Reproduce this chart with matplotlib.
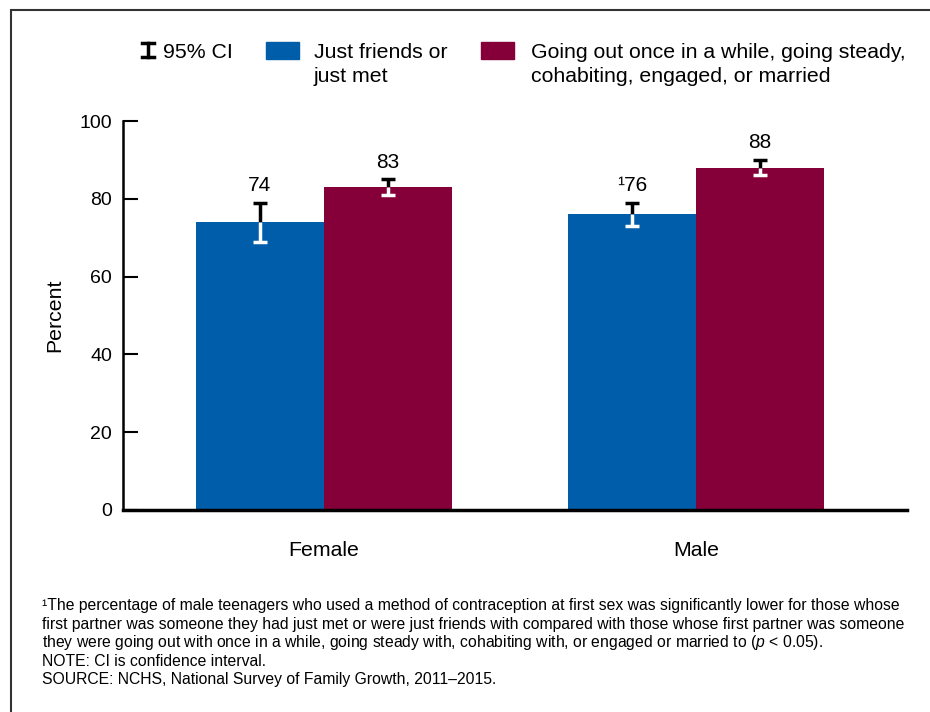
import numpy as np
import matplotlib.pyplot as plt
from matplotlib.patches import Rectangle
from matplotlib.lines import Line2D

plt.rcParams['font.family'] = ['Liberation Sans', 'DejaVu Sans']
plt.rcParams['mathtext.fontset'] = 'custom'
plt.rcParams['mathtext.rm'] = 'Liberation Sans'
plt.rcParams['mathtext.it'] = 'Liberation Sans:italic'

blue = '#005DAA'
maroon = '#850038'

sexes = ['Female', 'Male']
friends = [74, 76]
friends_lo = [69, 73]
friends_hi = [79, 79]
going_out = [83, 88]
going_lo = [81, 86]
going_hi = [85, 90]
friends_lab = ['74', '\u00b976']
going_lab = ['83', '88']
yticks = [0, 20, 40, 60, 80, 100]

fig = plt.figure(figsize=(9.3, 7.12), dpi=100)
ax = fig.add_axes([123/930, 1-510/712, 784/930, 389/712])

x = np.arange(len(sexes))
w = 0.344
ax.bar(x - w/2, friends, w, color=blue, zorder=2)
ax.bar(x + w/2, going_out, w, color=maroon, zorder=2)

def ci(xs, vals, lo, hi, labs):
    cw = 0.018
    for xi, v, l, h, t in zip(xs, vals, lo, hi, labs):
        # part above bar in black, part inside bar in white
        ax.plot([xi, xi], [v, h], color='black', lw=2.5, zorder=3, solid_capstyle='butt')
        ax.plot([xi-cw, xi+cw], [h, h], color='black', lw=2.5, zorder=3, solid_capstyle='butt')
        ax.plot([xi, xi], [l, v], color='white', lw=2.5, zorder=3, solid_capstyle='butt')
        ax.plot([xi-cw, xi+cw], [l, l], color='white', lw=2.5, zorder=3, solid_capstyle='butt')
        ax.text(xi, h + 2.0, t, ha='center', va='bottom', fontsize=15)

ci(x - w/2, friends, friends_lo, friends_hi, friends_lab)
ci(x + w/2, going_out, going_lo, going_hi, going_lab)

ax.set_xlim(-0.540, 1.567)
ax.set_ylim(0, 100)
ax.set_yticks(yticks)
ax.set_xticks(x)
ax.set_xticklabels(sexes)
ax.tick_params(axis='y', direction='in', length=11, width=1.5, labelsize=14, pad=8)
ax.tick_params(axis='x', length=0, labelsize=15.3, pad=22)
for s in ['top', 'right']:
    ax.spines[s].set_visible(False)
ax.spines['left'].set_linewidth(1.8)
ax.spines['bottom'].set_linewidth(2.5)
ax.set_ylabel('Percent', fontsize=15.3, labelpad=11)

# legend
fig.add_artist(Line2D([148/930]*2, [1-43/712, 1-57/712], color='black', lw=2.5))
fig.add_artist(Line2D([142/930, 154/930], [1-43/712]*2, color='black', lw=2.5))
fig.add_artist(Line2D([142/930, 154/930], [1-57/712]*2, color='black', lw=2.5))
fig.text(163/930, 1-52/712, '95% CI', fontsize=15.3, va='center')
fig.add_artist(Rectangle((266/930, 1-59/712), 33/930, 17/712, color=blue))
fig.text(314/930, 1-43/712, 'Just friends or\njust met', fontsize=15.3, va='top', linespacing=1.3)
fig.add_artist(Rectangle((481/930, 1-59/712), 33/930, 17/712, color=maroon))
fig.text(531/930, 1-43/712, 'Going out once in a while, going steady,\ncohabiting, engaged, or married',
         fontsize=15.3, va='top', linespacing=1.3)

note = ['\u00b9The percentage of male teenagers who used a method of contraception at first sex was significantly lower for those whose',
        'first partner was someone they had just met or were just friends with compared with those whose first partner was someone',
        'they were going out with once in a while, going steady with, cohabiting with, or engaged or married to ($\\it{p}$ < 0.05).',
        'NOTE: CI is confidence interval.',
        'SOURCE: NCHS, National Survey of Family Growth, 2011\u20132015.']
for i, line in enumerate(note):
    fig.text(42/930, 1-(610 + 18.5*i)/712, line, fontsize=11.35, va='baseline')

fig.add_artist(Rectangle((11/930, -0.1), 2, 1 - 10/712 + 0.1, fill=False, ec='#333333', lw=1.5))

fig.savefig('out.png', dpi=100)
